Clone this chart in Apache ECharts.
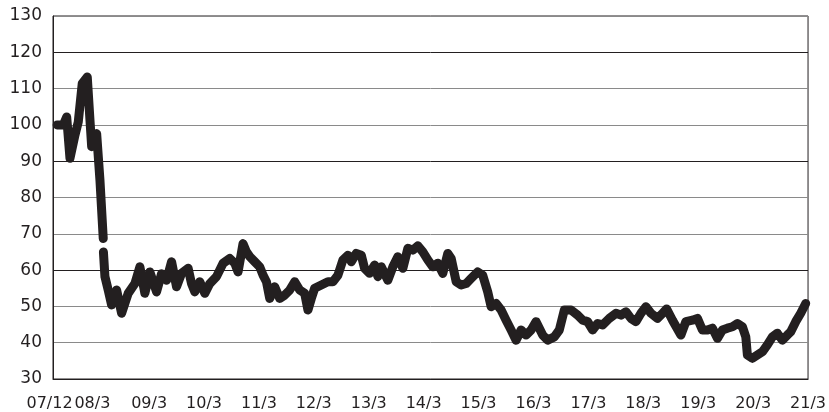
<!DOCTYPE html>
<html>
<head>
<meta charset="utf-8">
<script src="https://cdn.jsdelivr.net/npm/echarts@6/dist/echarts.min.js"></script>
<style>html,body{margin:0;padding:0;background:#fff;}#c{width:829px;height:412px;}</style>
</head>
<body>
<div id="c"></div>
<script>
// x values: months from the left edge of the axis (07/12 label)
const monthsX = [0.9,2.25,2.99,3.71,4.80,5.52,6.39,7.49,8.08,8.45,9.54,10.26,10.98,11.0,11.02,11.35,12.07,12.81,13.90,14.99,16.43,17.90,18.99,20.08,21.17,22.63,23.72,24.82,25.91,27.00,28.09,29.53,30.27,30.99,32.08,33.17,34.27,35.73,37.17,38.63,39.72,40.44,41.53,42.28,43.00,44.09,45.18,45.90,46.64,47.36,48.45,49.54,50.63,51.73,52.82,53.91,55.00,55.72,56.46,57.18,58.64,60.08,61.17,62.27,63.36,64.45,65.19,66.28,67.37,68.09,69.18,70.28,71.00,71.74,73.18,74.27,75.36,76.45,77.55,78.64,79.73,80.82,81.91,83.00,84.09,85.18,86.28,87.02,88.11,89.20,90.29,91.38,92.82,93.91,95.00,95.75,96.84,97.93,99.02,100.11,101.20,102.29,103.38,104.48,105.57,107.01,108.10,109.56,110.65,111.74,113.21,114.65,115.74,116.83,117.92,119.01,120.10,121.57,123.03,124.12,125.21,126.30,127.39,128.49,129.58,130.67,132.11,133.20,134.11,135.38,137.21,138.30,139.74,140.83,141.92,143.02,144.11,145.20,146.29,147.38,148.48,149.57,150.66,151.40,151.75,152.84,153.93,155.02,156.11,157.21,158.30,159.39,160.48,161.22,162.31,163.40,164.49];
const indexValues = [100,100,102.2,90.8,97.2,100.8,111.4,113.2,101.3,94,97.6,84.8,68.7,null,65,58.2,54.5,50.4,54.5,48.1,53.6,56.3,60.9,53.6,59.5,54,59,57.2,62.3,55.4,59.1,60.5,56.3,54,56.8,53.6,56.3,58.2,61.9,63.2,61.9,59.5,67.3,65,63.7,62.3,60.9,58.6,56.8,52.2,55.4,52.2,53.1,54.5,56.8,54.5,53.6,49,52.2,55,55.9,56.8,56.8,58.6,62.8,64.1,62.3,64.6,64.1,60.5,59.1,61.4,58.2,60.9,57.2,60.9,63.7,60.5,66,65.5,66.7,65,62.8,60.9,61.9,59.1,64.6,63.2,56.8,55.9,56.3,57.7,59.5,58.6,54,49.9,50.8,49,46.2,43.5,40.7,43.5,42.1,43.5,45.8,42.1,40.7,41.6,43.5,49,49,47.6,46.2,45.8,43.5,45.3,44.9,46.7,48.1,47.6,48.5,46.7,45.8,48.1,49.9,48.1,46.7,48.1,49.3,46.2,42.1,45.8,46.2,46.7,43.5,43.5,44,41.2,43.5,44,44.4,45.3,44.4,41.6,36.6,35.7,36.6,37.5,39.4,41.6,42.6,40.7,42.1,43,45.8,48.1,50.8];
const tickMonths = [0,8.6,21,33,45,57,69,81,93,105,117,129,141,153,165];
const tickLabels = ['07/12','08/3','09/3','10/3','11/3','12/3','13/3','14/3','15/3','16/3','17/3','18/3','19/3','20/3','21/3'];
const yMin = 30, yMax = 130, yStep = 10;

const seriesData = monthsX.map((m, i) => [m, indexValues[i] === null ? '-' : indexValues[i]]);
const chart = echarts.init(document.getElementById('c'), null, {renderer: 'canvas'});
const ink = '#231f20';
const lblFont = {fontFamily: 'DejaVu Sans', fontSize: 16, color: ink};
chart.setOption({
  animation: false,
  backgroundColor: '#fff',
  grid: {left: 53, right: 20, top: 16, bottom: 33, show: true, borderColor: ink, borderWidth: 1, backgroundColor: 'transparent'},
  xAxis: {
    type: 'value', min: tickMonths[0], max: tickMonths[tickMonths.length - 1],
    axisLine: {show: true, lineStyle: {color: ink, width: 1}},
    axisTick: {show: false},
    splitLine: {show: false},
    axisLabel: {
      customValues: tickMonths,
      formatter: v => {
        const i = tickMonths.indexOf(v);
        if (i < 0) return '';
        return i === 0 ? '{first|' + tickLabels[i] + '}' : tickLabels[i];
      },
      rich: {first: Object.assign({padding: [0, 7, 0, 0]}, lblFont)},
      ...lblFont, margin: 17
    }
  },
  yAxis: {
    type: 'value', min: yMin, max: yMax, interval: yStep,
    axisLine: {show: true, lineStyle: {color: ink, width: 1}},
    axisTick: {show: false},
    splitLine: {show: true, lineStyle: {color: [ink, '#8a8a8a', '#8a8a8a'], width: 1}},
    axisLabel: {fontFamily: 'DejaVu Sans', fontSize: 17, color: ink, margin: 11, padding: [5, 0, 0, 0]}
  },
  series: [{
    type: 'line', data: seriesData, showSymbol: false, connectNulls: false,
    lineStyle: {color: ink, width: 9, cap: 'round', join: 'round'}
  }]
});
</script>
</body>
</html>
